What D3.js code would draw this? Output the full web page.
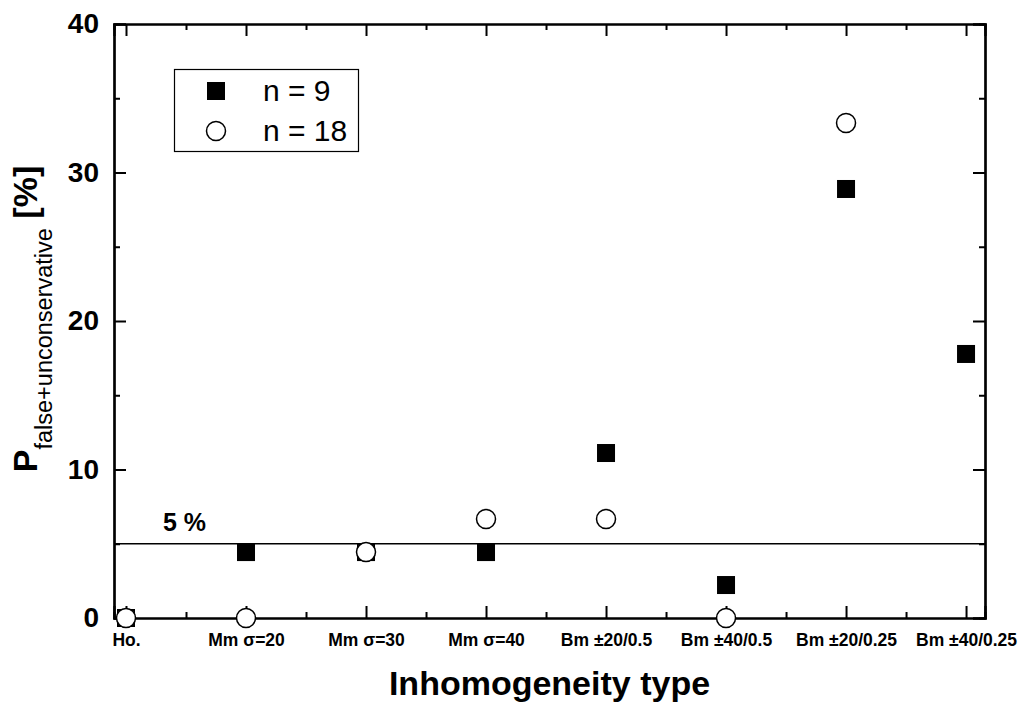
<!DOCTYPE html>
<html>
<head>
<meta charset="utf-8">
<script src="https://cdn.jsdelivr.net/npm/d3@7"></script>
<style>
  html, body { margin: 0; padding: 0; background: #fff; }
  svg { display: block; font-family: "Liberation Sans", Arial, Helvetica, sans-serif; }
</style>
</head>
<body>
<svg id="chart" width="1030" height="708"></svg>
<script>
// ---- data ----
const categories = ["Ho.", "Mm σ=20", "Mm σ=30", "Mm σ=40", "Bm ±20/0.5", "Bm ±40/0.5", "Bm ±20/0.25", "Bm ±40/0.25"];
const seriesN9  = [0, 4.44, 4.44, 4.44, 11.11, 2.22, 28.89, 17.78];
const seriesN18 = [0, 0, 4.44, 6.67, 6.67, 0, 33.33, null];
const yTicks = [0, 10, 20, 30, 40];
const yMinorTicks = [5, 15, 25, 35];
const thresholdValue = 5;
const legendLabels = ["n = 9", "n = 18"];

// ---- layout ----
const L = 114, R = 985, T = 24, B = 618;
const svg = d3.select("#chart");

const x = d3.scaleLinear().domain([-0.1, 7.158]).range([L, R]);
const y = d3.scaleLinear().domain([0, 40]).range([B, T]);

const majorX = d3.range(categories.length);
const minorX = d3.range(categories.length - 1).map(i => i + 0.5);

function styleAxis(g) {
  g.select(".domain").attr("stroke", "#000").attr("stroke-width", 2.2);
  g.selectAll(".tick line").attr("stroke", "#000").attr("stroke-width", 2);
}

// 5% line
svg.append("line")
  .attr("x1", L).attr("x2", R)
  .attr("y1", y(thresholdValue)).attr("y2", y(thresholdValue))
  .attr("stroke", "#000").attr("stroke-width", 1.3);
svg.append("text")
  .attr("x", 163).attr("y", 531)
  .attr("font-size", 25).attr("font-weight", "bold")
  .text("5 %");

// bottom axis
const gB = svg.append("g").attr("transform", `translate(0,${B})`)
  .call(d3.axisBottom(x).tickValues(majorX).tickSize(-12).tickPadding(16)
        .tickFormat(i => categories[i]));
gB.selectAll("text").attr("font-size", 17.5).attr("font-weight", "bold").attr("fill", "#000")
  .attr("font-family", "Liberation Sans, Arial, sans-serif");
styleAxis(gB);
const gBm = svg.append("g").attr("transform", `translate(0,${B})`)
  .call(d3.axisBottom(x).tickValues(minorX).tickSize(-6).tickFormat(""));
styleAxis(gBm);

// top axis
const gT = svg.append("g").attr("transform", `translate(0,${T})`)
  .call(d3.axisTop(x).tickValues(majorX).tickSize(-12).tickFormat(""));
styleAxis(gT);
const gTm = svg.append("g").attr("transform", `translate(0,${T})`)
  .call(d3.axisTop(x).tickValues(minorX).tickSize(-6).tickFormat(""));
styleAxis(gTm);

// left axis
const gL = svg.append("g").attr("transform", `translate(${L},0)`)
  .call(d3.axisLeft(y).tickValues(yTicks).tickSize(-12).tickPadding(15).tickFormat(d3.format("d")));
gL.selectAll("text").attr("font-size", 28).attr("font-weight", "bold").attr("fill", "#000")
  .attr("font-family", "Liberation Sans, Arial, sans-serif");
styleAxis(gL);
const gLm = svg.append("g").attr("transform", `translate(${L},0)`)
  .call(d3.axisLeft(y).tickValues(yMinorTicks).tickSize(-6).tickFormat(""));
styleAxis(gLm);

// right axis
const gR = svg.append("g").attr("transform", `translate(${R},0)`)
  .call(d3.axisRight(y).tickValues(yTicks).tickSize(-12).tickFormat(""));
styleAxis(gR);
const gRm = svg.append("g").attr("transform", `translate(${R},0)`)
  .call(d3.axisRight(y).tickValues(yMinorTicks).tickSize(-6).tickFormat(""));
styleAxis(gRm);

// data: squares (n = 9)
const sq = 18;
svg.append("g").selectAll("rect")
  .data(seriesN9.map((v, i) => ({i, v})).filter(d => d.v != null))
  .join("rect")
  .attr("x", d => x(d.i) - sq / 2)
  .attr("y", d => y(d.v) - sq / 2)
  .attr("width", sq).attr("height", sq)
  .attr("fill", "#000");

// data: circles (n = 18)
svg.append("g").selectAll("circle")
  .data(seriesN18.map((v, i) => ({i, v})).filter(d => d.v != null))
  .join("circle")
  .attr("cx", d => x(d.i))
  .attr("cy", d => y(d.v))
  .attr("r", 9.5)
  .attr("fill", "#fff").attr("stroke", "#000").attr("stroke-width", 1.5);

// legend
const lg = svg.append("g");
lg.append("rect").attr("x", 174.5).attr("y", 69.5).attr("width", 184).attr("height", 82)
  .attr("fill", "#fff").attr("stroke", "#000").attr("stroke-width", 1.2);
lg.append("rect").attr("x", 216 - 9).attr("y", 91 - 9).attr("width", 18).attr("height", 18).attr("fill", "#000");
lg.append("circle").attr("cx", 216).attr("cy", 131).attr("r", 9.5)
  .attr("fill", "#fff").attr("stroke", "#000").attr("stroke-width", 1.5);
lg.append("text").attr("x", 263).attr("y", 101).attr("font-size", 30).text(legendLabels[0]);
lg.append("text").attr("x", 263).attr("y", 141).attr("font-size", 30).text(legendLabels[1]);

// x axis title
svg.append("text")
  .attr("x", (L + R) / 2).attr("y", 695)
  .attr("text-anchor", "middle")
  .attr("font-size", 34).attr("font-weight", "bold")
  .text("Inhomogeneity type");

// y axis title
const yt = svg.append("text")
  .attr("transform", `translate(37,${(T + B) / 2 - 2}) rotate(-90)`)
  .attr("text-anchor", "middle")
  .attr("font-size", 34).attr("font-weight", "bold");
yt.append("tspan").text("P");
yt.append("tspan").attr("font-size", 23.5).attr("font-weight", "normal").attr("dy", 15).text("false+unconservative");
yt.append("tspan").attr("dy", -15).text(" [%]");
</script>
</body>
</html>
